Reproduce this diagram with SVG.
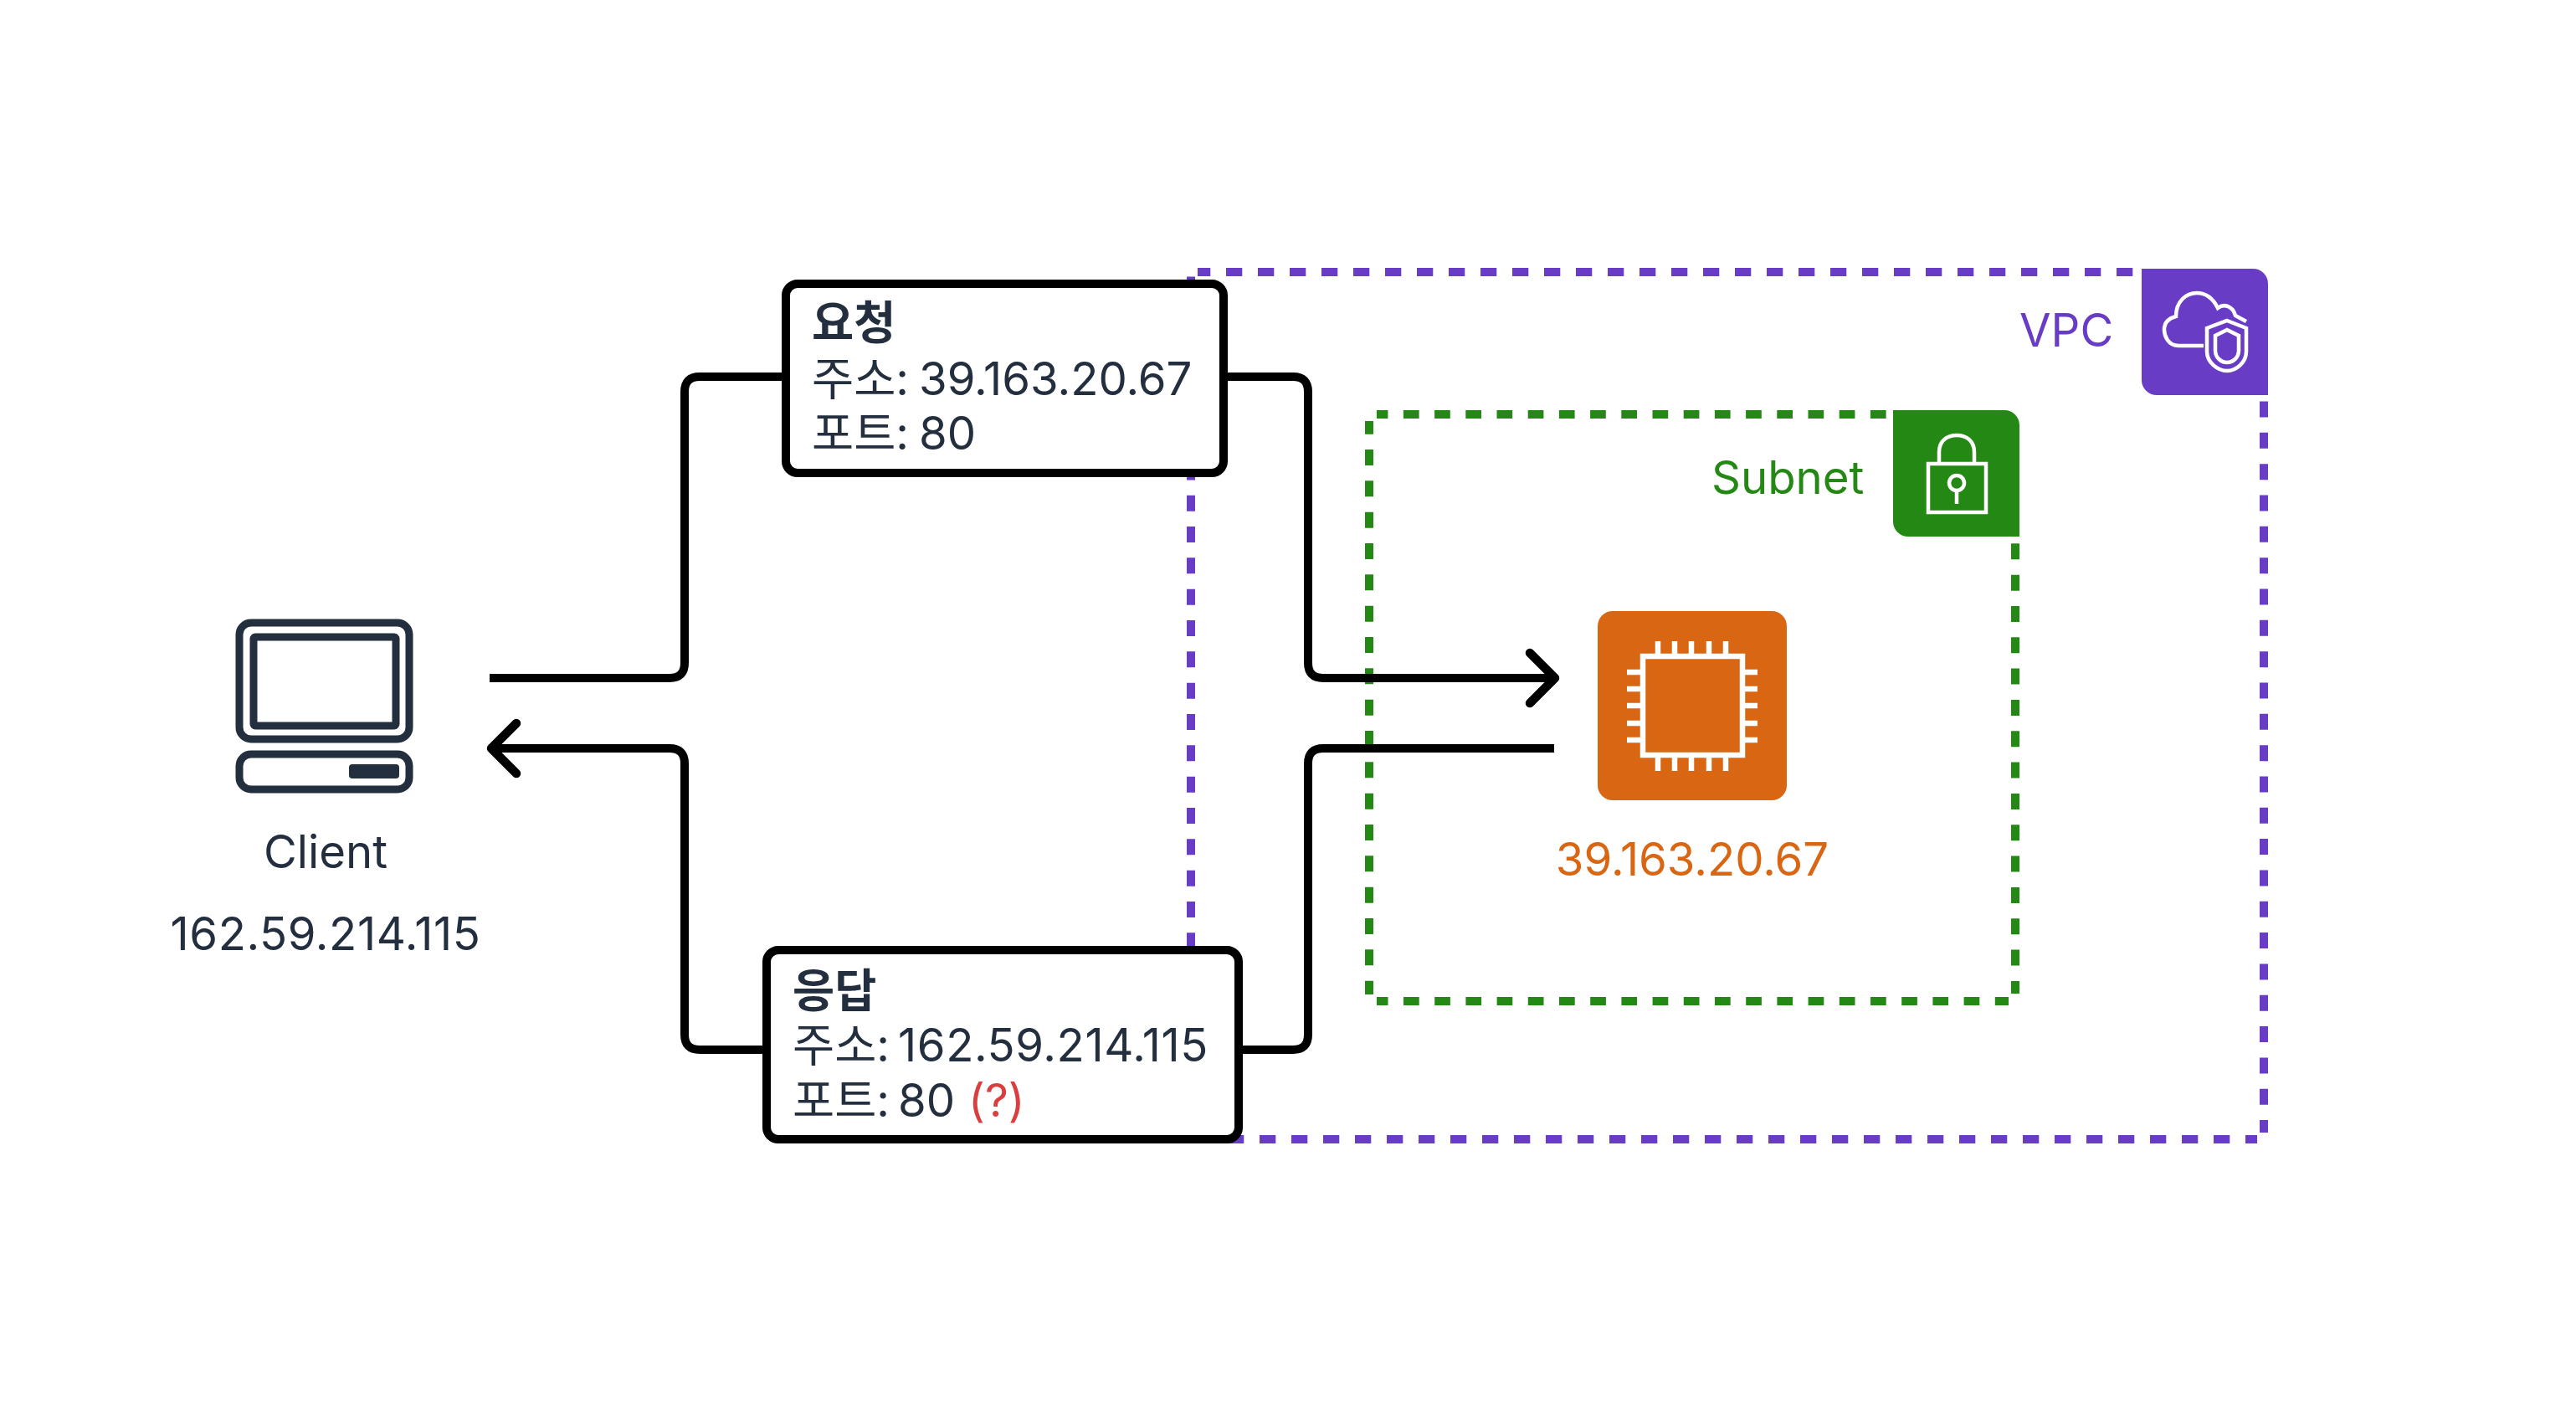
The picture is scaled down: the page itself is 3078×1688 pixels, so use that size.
<svg xmlns="http://www.w3.org/2000/svg" width="3078" height="1688" viewBox="0 0 3078 1688">
<style>
text{font-family:"Inter","Noto Sans CJK KR","Noto Sans",sans-serif;font-size:54.5px;fill:#232F3E}
.b{font-weight:700}
.ip{letter-spacing:.6px}
.vh{fill:none;stroke:#693CC5;stroke-width:10;stroke-dasharray:19.3 18.7}
.vv{fill:none;stroke:#693CC5;stroke-width:10;stroke-dasharray:19 18.33}
.sh{fill:none;stroke:#248814;stroke-width:10;stroke-dasharray:18.7 18.5}
.sv{fill:none;stroke:#248814;stroke-width:10;stroke-dasharray:19 18.33}
.conn{fill:none;stroke:#000;stroke-width:10}
.box{fill:#fff;stroke:#000;stroke-width:10}
.ic{fill:none;stroke:#fff;stroke-width:4.5}
.chip{fill:none;stroke:#fff;stroke-width:6.5}
.pc{fill:none;stroke:#232F3E;stroke-width:9;stroke-linejoin:round}
</style>
<defs>
<marker id="open" markerUnits="userSpaceOnUse" markerWidth="80" markerHeight="80" refX="0" refY="0" orient="auto" viewBox="-40 -40 80 80"><path d="M-30 -30L0 0L-30 30" fill="none" stroke="#000" stroke-width="10.5" stroke-linecap="round" stroke-linejoin="round"/></marker>
</defs>
<rect width="3078" height="1688" fill="#fff"/>
<g id="vpc">
<path class="vh" d="M1431 325H2559" stroke-dashoffset="4"/>
<path class="vv" d="M1423 330.4V1132"/>
<path class="vv" d="M2705 479.5V1353"/>
<path class="vh" d="M1467 1361H2697"/>
<path d="M2559 321H2692a18 18 0 0 1 18 18V472H2577a18 18 0 0 1 -18 -18Z" fill="#693CC5"/>
<path class="ic" d="M2633 413H2603C2590 413 2586 400 2586 394C2586 385 2592 380 2600 378C2600 360 2612 350 2625 350C2637 350 2645 358 2650 368C2658 362 2668 366 2671 377L2684 384"/>
<path class="ic" d="M2661 383L2684 392V420C2684 433 2672 443 2661 443C2650 443 2637 433 2637 420V392Z"/>
<path class="ic" d="M2661 394L2675 401V419C2675 427 2668 433 2661 433C2654 433 2647 427 2647 419V401Z"/>
<text x="2413" y="414" style="fill:#693CC5">VPC</text>
</g>
<g id="subnet">
<path class="sh" d="M1645 495H2262" stroke-dashoffset="5.3"/>
<path class="sv" d="M1636 503V1188" stroke-dashoffset="3.3"/>
<path class="sv" d="M2408 649.3V1187"/>
<path class="sh" d="M1645 1196H2400" stroke-dashoffset="-32"/>
<path d="M2262 490H2395a18 18 0 0 1 18 18V641H2280a18 18 0 0 1 -18 -18Z" fill="#248814"/>
<rect class="ic" x="2304" y="554" width="69" height="58"/>
<path class="ic" d="M2317 554V540C2317 527 2326 520 2338 520C2350 520 2359 527 2359 540V554"/>
<circle class="ic" cx="2338" cy="577" r="9"/>
<path class="ic" d="M2338 586V602"/>
<text x="2045" y="590" style="fill:#248814">Subnet</text>
</g>
<g id="client">
<rect class="pc" x="286" y="744" width="203" height="139" rx="14"/>
<rect class="pc" x="303" y="761" width="170" height="106" rx="2"/>
<rect class="pc" x="286" y="901" width="203" height="42" rx="14"/>
<rect x="417" y="913" width="60" height="17" rx="4" fill="#232F3E"/>
<text x="389" y="1037" text-anchor="middle">Client</text>
<text class="ip" x="389" y="1135" text-anchor="middle">162.59.214.115</text>
</g>
<g id="instance">
<rect x="1909" y="730" width="226" height="226" rx="18" fill="#D86613"/>
<rect class="chip" x="1963" y="784" width="119" height="118"/>
<path class="chip" d="M1981 766V781M2001 766V781M2021 766V781M2042 766V781M2062 766V781M1981 905V921M2001 905V921M2021 905V921M2042 905V921M2062 905V921M1944 803H1960M1944 823H1960M1944 843H1960M1944 864H1960M1944 884H1960M2085 803H2100M2085 823H2100M2085 843H2100M2085 864H2100M2085 884H2100"/>
<text x="2022" y="1046" text-anchor="middle" style="fill:#D86613">39.163.20.67</text>
</g>
<g id="connectors">
<path class="conn" d="M585 810H800Q818 810 818 792V468Q818 450 836 450H939"/>
<path class="conn" d="M1462 450H1545Q1563 450 1563 468V792Q1563 810 1581 810H1858" marker-end="url(#open)"/>
<path class="conn" d="M1857 894H1581Q1563 894 1563 912V1236Q1563 1254 1545 1254H1480"/>
<path class="conn" d="M916 1254H836Q818 1254 818 1236V912Q818 894 800 894H587" marker-end="url(#open)"/>
</g>
<g id="request">
<rect class="box" x="939" y="339" width="523" height="226" rx="14"/>
<text class="b" x="970" y="405">요청</text>
<text x="970" y="472">주소: <tspan x="1098">39.163.20.67</tspan></text>
<text x="970" y="537">포트: <tspan x="1098">80</tspan></text>
</g>
<g id="response">
<rect class="box" x="916" y="1135" width="564" height="226" rx="14"/>
<text class="b" x="947" y="1203">응답</text>
<text x="947" y="1268">주소: <tspan class="ip" x="1073">162.59.214.115</tspan></text>
<text x="947" y="1334">포트: <tspan x="1073">80</tspan> <tspan x="1157" style="fill:#D93F3F">(?)</tspan></text>
</g>
</svg>
